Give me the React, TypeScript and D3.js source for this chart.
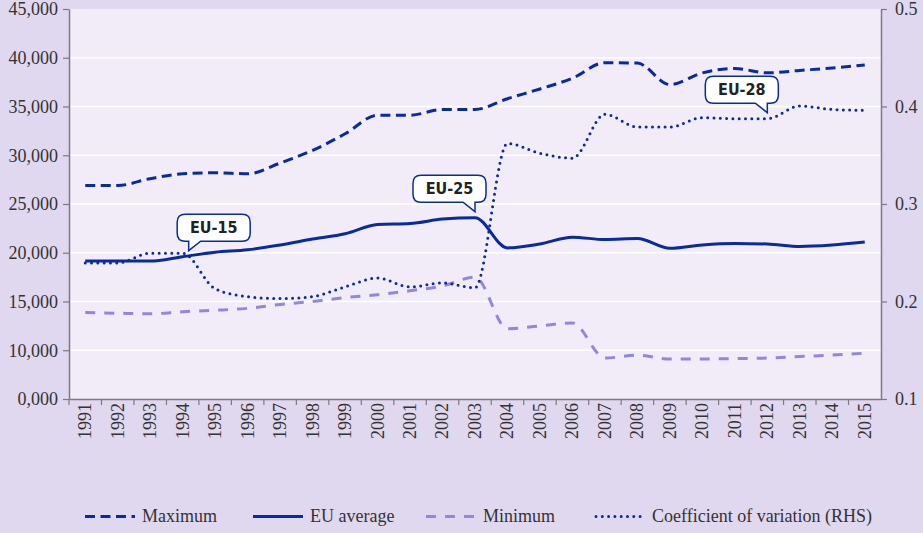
import React, { useRef, useEffect } from "react";
import * as d3 from "d3";

const years = [
  "1991", "1992", "1993", "1994", "1995", "1996", "1997", "1998", "1999", "2000",
  "2001", "2002", "2003", "2004", "2005", "2006", "2007", "2008", "2009", "2010",
  "2011", "2012", "2013", "2014", "2015",
];
const maximum = [
  26900, 26900, 27600, 28100, 28200, 28100, 29200, 30500, 32200, 34100,
  34100, 34700, 34700, 35800, 36800, 37900, 39500, 39450, 37250, 38450,
  38900, 38450, 38700, 38950, 39250,
];
const euAverage = [
  19150, 19150, 19150, 19600, 20050, 20300, 20800, 21400, 21950, 22900,
  23000, 23450, 23600, 20500, 20900, 21600, 21350, 21450, 20450, 20800,
  20950, 20900, 20650, 20800, 21100,
];
const minimum = [
  13870, 13800, 13740, 13950, 14100, 14300, 14700, 15000, 15400, 15700,
  16100, 16600, 17500, 12200, 12500, 12800, 9200, 9500, 9100, 9100,
  9150, 9200, 9350, 9500, 9700,
];
const coefVar = [
  0.2395, 0.2395, 0.2495, 0.2495, 0.213, 0.205, 0.203, 0.205, 0.215, 0.224,
  0.215, 0.219, 0.214, 0.362, 0.352, 0.347, 0.392, 0.379, 0.379, 0.3885,
  0.3875, 0.3875, 0.4005, 0.397, 0.396,
];
const leftTicks = [5000, 10000, 15000, 20000, 25000, 30000, 35000, 40000, 45000];
const leftTickLabels = ["0,000", "10,000", "15,000", "20,000", "25,000", "30,000", "35,000", "40,000", "45,000"];
const rightTicks = [0.1, 0.2, 0.3, 0.4, 0.5];
const legendLabels = ["Maximum", "EU average", "Minimum", "Coefficient of variation (RHS)"];
const callouts = [
  { label: "EU-15", year: "1994", value: 19600, side: "left" },
  { label: "EU-25", year: "2003", value: 23600, side: "right" },
  { label: "EU-28", year: "2012", value: 0.3875, side: "right" },
];

const DARK = "#0b2b9c";
const LIGHT = "#9189d8";
const AXIS = "#7d7885";
const SERIF = "Liberation Serif, DejaVu Serif, serif";

export default function App() {
  const ref = useRef<SVGSVGElement>(null);

  useEffect(() => {
    const width = 923;
    const height = 533;
    const m = { left: 69, right: 881, top: 9, bottom: 399 };
    const svg = d3.select(ref.current);
    svg.selectAll("*").remove();
    svg.attr("width", width).attr("height", height);

    svg.append("rect").attr("width", width).attr("height", height).attr("fill", "#e0d8ef");
    svg
      .append("rect")
      .attr("x", m.left)
      .attr("y", m.top)
      .attr("width", m.right - m.left)
      .attr("height", m.bottom - m.top)
      .attr("fill", "#f1ecf8");

    const x = d3.scaleBand().domain(years).range([m.left, m.right]);
    const yL = d3.scaleLinear().domain([5000, 45000]).range([m.bottom, m.top]);
    const yR = d3.scaleLinear().domain([0.1, 0.5]).range([m.bottom, m.top]);
    const cx = (y: string) => (x(y) as number) + x.bandwidth() / 2;

    // gridlines
    svg
      .append("g")
      .selectAll("line")
      .data(leftTicks.slice(1, -1))
      .join("line")
      .attr("x1", m.left)
      .attr("x2", m.right)
      .attr("y1", (d) => yL(d))
      .attr("y2", (d) => yL(d))
      .attr("stroke", "#ffffff")
      .attr("stroke-width", 1.5);

    // axes
    const styleAxis = (g: any) => {
      g.attr("font-family", SERIF).attr("font-size", 18);
      g.selectAll("path").attr("stroke", AXIS).attr("stroke-width", 1.5);
      g.selectAll("line").attr("stroke", AXIS).attr("stroke-width", 1.2);
      g.selectAll("text").attr("fill", "#333");
    };

    svg
      .append("g")
      .attr("transform", `translate(${m.left},0)`)
      .call(
        d3.axisLeft(yL).tickValues(leftTicks).tickFormat((d, i) => leftTickLabels[i]).tickSize(6).tickSizeOuter(0).tickPadding(5)
      )
      .call(styleAxis);

    svg
      .append("g")
      .attr("transform", `translate(${m.right},0)`)
      .call(d3.axisRight(yR).tickValues(rightTicks).tickFormat(d3.format(".1f")).tickSize(6).tickSizeOuter(0).tickPadding(8))
      .call(styleAxis);

    const xAxis = svg
      .append("g")
      .attr("transform", `translate(0,${m.bottom})`)
      .call(d3.axisBottom(x).tickSize(0).tickSizeOuter(0))
      .call(styleAxis);
    xAxis
      .selectAll("text")
      .attr("transform", "rotate(-90)")
      .attr("text-anchor", "end")
      .attr("x", -4)
      .attr("y", 0)
      .attr("dy", "0.33em");
    xAxis
      .selectAll(".boundary")
      .data(years)
      .join("line")
      .attr("class", "boundary")
      .attr("x1", (d) => x(d) as number)
      .attr("x2", (d) => x(d) as number)
      .attr("y1", 0)
      .attr("y2", 6)
      .attr("stroke", AXIS)
      .attr("stroke-width", 1.2);

    // lines
    const lineL = d3
      .line<number>()
      .x((d, i) => cx(years[i]))
      .y((d) => yL(d))
      .curve(d3.curveMonotoneX);
    const lineR = d3
      .line<number>()
      .x((d, i) => cx(years[i]))
      .y((d) => yR(d))
      .curve(d3.curveMonotoneX);

    const series = [
      { data: minimum, line: lineL, color: LIGHT, dash: "10 9", cap: "butt" },
      { data: maximum, line: lineL, color: DARK, dash: "10 5.5", cap: "butt" },
      { data: euAverage, line: lineL, color: DARK, dash: null, cap: "butt" },
      { data: coefVar, line: lineR, color: DARK, dash: "0 6.3", cap: "round" },
    ];
    svg
      .append("g")
      .selectAll("path")
      .data(series)
      .join("path")
      .attr("d", (d) => d.line(d.data))
      .attr("fill", "none")
      .attr("stroke", (d) => d.color)
      .attr("stroke-width", 3)
      .attr("stroke-linecap", (d) => d.cap)
      .attr("stroke-dasharray", (d) => d.dash);

    // callouts
    const calloutG = svg.append("g");
    callouts.forEach((c) => {
      const tx = cx(c.year) + (c.side === "left" ? 6 : 0);
      const ty = (c.label === "EU-28" ? yR(c.value) : yL(c.value)) - 6;
      const w = 73;
      const h = 27;
      const r = 8;
      const L = c.side === "left" ? tx - 11.5 : tx - 62;
      const R = L + w;
      const B = ty - 9.5;
      const T = B - h;
      const p1 = c.side === "left" ? tx : tx - 12;
      const p2 = c.side === "left" ? tx + 12 : tx;
      const path = `M${L + r},${T}H${R - r}Q${R},${T} ${R},${T + r}V${B - r}Q${R},${B} ${R - r},${B}H${p2}L${tx},${ty}L${p1},${B}H${L + r}Q${L},${B} ${L},${B - r}V${T + r}Q${L},${T} ${L + r},${T}Z`;
      calloutG.append("path").attr("d", path).attr("fill", "#ffffff").attr("stroke", DARK).attr("stroke-width", 1.5);
      calloutG
        .append("text")
        .attr("x", (L + R) / 2)
        .attr("y", (T + B) / 2)
        .attr("dy", "0.36em")
        .attr("text-anchor", "middle")
        .attr("fill", "#222")
        .attr("font-family", "DejaVu Sans Condensed, DejaVu Sans, sans-serif")
        .attr("font-stretch", "condensed")
        .attr("font-weight", "bold")
        .attr("font-size", 16)
        .text(c.label);
    });

    // legend
    const legendX = [85, 253, 426, 596];
    const legendY = 516.5;
    const legend = svg
      .append("g")
      .selectAll("g")
      .data([series[1], series[2], series[0], series[3]])
      .join("g")
      .attr("transform", (d, i) => `translate(${legendX[i]},${legendY})`);
    legend
      .append("line")
      .attr("x1", 0)
      .attr("x2", 50)
      .attr("stroke", (d) => d.color)
      .attr("stroke-width", 3)
      .attr("stroke-linecap", (d) => d.cap)
      .attr("stroke-dasharray", (d) => d.dash);
    legend
      .append("text")
      .attr("x", (d, i) => (i === 3 ? 56 : 57))
      .attr("dy", "0.32em")
      .attr("fill", "#333")
      .attr("font-family", SERIF)
      .attr("font-size", 18)
      .text((d, i) => legendLabels[i]);
  }, []);

  return (
    <div style={{ position: "absolute", left: 0, top: 0 }}>
      <svg ref={ref} style={{ display: "block" }} />
    </div>
  );
}
